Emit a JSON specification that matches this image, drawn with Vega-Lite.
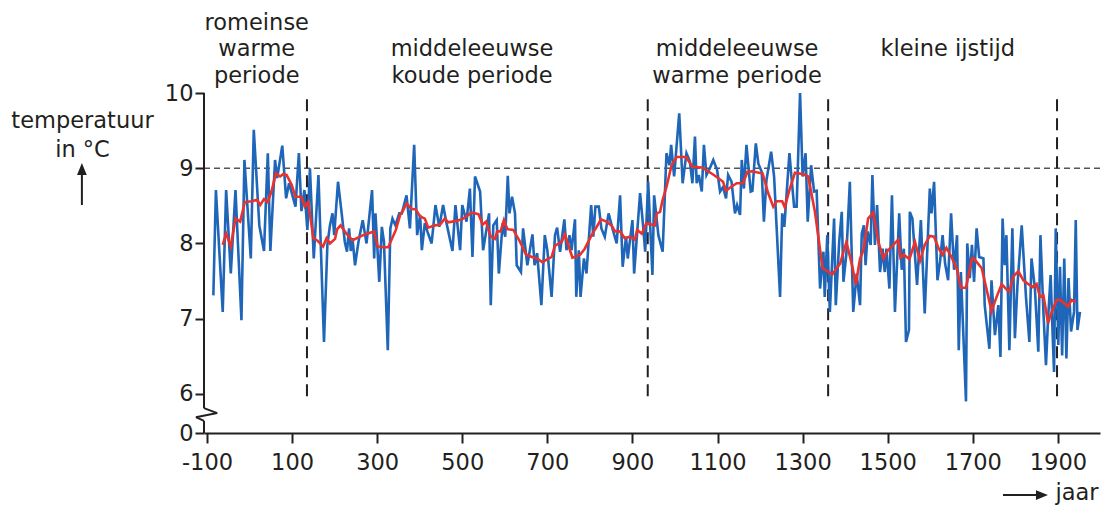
{
  "$schema": "https://vega.github.io/schema/vega-lite/v6.json",
  "width": 896,
  "height": 340,
  "autosize": {"type": "none"},
  "padding": {"left": 204, "top": 93, "right": 10, "bottom": 73},
  "background": "white",
  "config": {
    "view": {"stroke": null},
    "font": "DejaVu Sans",
    "axis": {"grid": false, "labelFont": "DejaVu Sans", "titleFont": "DejaVu Sans", "labelColor": "#231f20", "titleColor": "#231f20", "tickColor": "#231f20", "domainColor": "#231f20"},
    "text": {"font": "DejaVu Sans", "fontSize": 22.5, "color": "#231f20"}
  },
  "datasets": {
    "jaarlijks": [
      {"jaar":-85,"temperatuur":7.31},{"jaar":-79,"temperatuur":8.71},{"jaar":-63,"temperatuur":7.09},{"jaar":-55,"temperatuur":8.71},{"jaar":-44,"temperatuur":7.6},{"jaar":-33,"temperatuur":8.71},{"jaar":-19,"temperatuur":6.98},{"jaar":-12,"temperatuur":9.11},{"jaar":3,"temperatuur":7.8},{"jaar":10,"temperatuur":9.51},{"jaar":23,"temperatuur":8.24},{"jaar":34,"temperatuur":7.9},{"jaar":43,"temperatuur":9.2},{"jaar":49,"temperatuur":7.9},{"jaar":60,"temperatuur":9.11},{"jaar":65,"temperatuur":8.87},{"jaar":77,"temperatuur":9.3},{"jaar":86,"temperatuur":8.6},{"jaar":93,"temperatuur":8.8},{"jaar":108,"temperatuur":8.49},{"jaar":116,"temperatuur":9.2},{"jaar":122,"temperatuur":8.43},{"jaar":129,"temperatuur":8.71},{"jaar":136,"temperatuur":8.18},
      {"jaar":142,"temperatuur":9.0},{"jaar":151,"temperatuur":7.8},{"jaar":162,"temperatuur":8.91},{"jaar":175,"temperatuur":6.69},{"jaar":183,"temperatuur":7.98},{"jaar":189,"temperatuur":8.24},{"jaar":195,"temperatuur":8.4},{"jaar":199,"temperatuur":8.11},{"jaar":208,"temperatuur":8.82},{"jaar":217,"temperatuur":8.38},{"jaar":224,"temperatuur":8.02},{"jaar":229,"temperatuur":7.89},{"jaar":234,"temperatuur":8.2},{"jaar":238,"temperatuur":7.9},{"jaar":242,"temperatuur":8.07},{"jaar":248,"temperatuur":7.71},{"jaar":256,"temperatuur":8.02},{"jaar":266,"temperatuur":8.31},{"jaar":275,"temperatuur":8.0},{"jaar":288,"temperatuur":8.71},{"jaar":293,"temperatuur":7.8},{"jaar":296,"temperatuur":8.4},{"jaar":305,"temperatuur":7.49},{"jaar":311,"temperatuur":8.22},{"jaar":316,"temperatuur":8.02},{"jaar":325,"temperatuur":6.58},{"jaar":331,"temperatuur":8.2},{"jaar":336,"temperatuur":8.33},{"jaar":343,"temperatuur":8.24},{"jaar":352,"temperatuur":8.4},{"jaar":358,"temperatuur":8.4},{"jaar":369,"temperatuur":8.64},{"jaar":377,"temperatuur":8.2},{"jaar":387,"temperatuur":9.31},{"jaar":394,"temperatuur":8.11},
      {"jaar":401,"temperatuur":8.38},{"jaar":405,"temperatuur":7.91},{"jaar":412,"temperatuur":8.27},{"jaar":418,"temperatuur":8.16},{"jaar":428,"temperatuur":8.0},{"jaar":437,"temperatuur":8.51},{"jaar":446,"temperatuur":8.22},{"jaar":455,"temperatuur":8.51},{"jaar":463,"temperatuur":8.27},{"jaar":477,"temperatuur":7.9},{"jaar":484,"temperatuur":8.51},{"jaar":495,"temperatuur":7.91},{"jaar":500,"temperatuur":8.51},{"jaar":510,"temperatuur":8.29},{"jaar":518,"temperatuur":8.73},{"jaar":524,"temperatuur":7.82},{"jaar":530,"temperatuur":8.89},{"jaar":542,"temperatuur":8.69},{"jaar":549,"temperatuur":7.91},{"jaar":563,"temperatuur":8.4},{"jaar":567,"temperatuur":7.18},{"jaar":573,"temperatuur":8.24},{"jaar":581,"temperatuur":8.31},{"jaar":586,"temperatuur":7.6},{"jaar":595,"temperatuur":8.27},{"jaar":601,"temperatuur":8.09},{"jaar":607,"temperatuur":8.9},{"jaar":611,"temperatuur":8.4},{"jaar":617,"temperatuur":8.62},{"jaar":624,"temperatuur":8.4},{"jaar":628,"temperatuur":7.71},{"jaar":638,"temperatuur":7.62},{"jaar":643,"temperatuur":8.2},{"jaar":653,"temperatuur":7.71},
      {"jaar":665,"temperatuur":8.12},{"jaar":670,"temperatuur":7.71},{"jaar":676,"temperatuur":7.87},{"jaar":686,"temperatuur":7.18},{"jaar":694,"temperatuur":8.11},{"jaar":700,"temperatuur":7.91},{"jaar":710,"temperatuur":7.29},{"jaar":718,"temperatuur":8.11},{"jaar":723,"temperatuur":8.21},{"jaar":730,"temperatuur":7.89},{"jaar":740,"temperatuur":8.32},{"jaar":745,"temperatuur":7.91},{"jaar":752,"temperatuur":8.11},{"jaar":757,"temperatuur":7.91},{"jaar":765,"temperatuur":8.32},{"jaar":768,"temperatuur":7.29},{"jaar":774,"temperatuur":7.91},{"jaar":778,"temperatuur":7.29},{"jaar":786,"temperatuur":7.8},{"jaar":792,"temperatuur":7.6},{"jaar":803,"temperatuur":8.51},{"jaar":808,"temperatuur":8.09},{"jaar":813,"temperatuur":8.49},{"jaar":821,"temperatuur":8.49},{"jaar":827,"temperatuur":8.2},{"jaar":835,"temperatuur":8.09},{"jaar":844,"temperatuur":8.4},{"jaar":853,"temperatuur":8.2},{"jaar":863,"temperatuur":8.0},{"jaar":871,"temperatuur":8.64},{"jaar":877,"temperatuur":7.69},{"jaar":885,"temperatuur":8.09},{"jaar":889,"temperatuur":7.8},{"jaar":900,"temperatuur":8.31},{"jaar":904,"temperatuur":7.6},{"jaar":918,"temperatuur":8.67},
      {"jaar":925,"temperatuur":8.24},{"jaar":930,"temperatuur":7.89},{"jaar":937,"temperatuur":8.82},{"jaar":947,"temperatuur":7.58},{"jaar":951,"temperatuur":8.64},{"jaar":961,"temperatuur":8.11},{"jaar":971,"temperatuur":7.89},{"jaar":980,"temperatuur":9.2},{"jaar":987,"temperatuur":9.04},{"jaar":991,"temperatuur":9.31},{"jaar":998,"temperatuur":8.89},{"jaar":1010,"temperatuur":9.73},{"jaar":1018,"temperatuur":8.8},{"jaar":1027,"temperatuur":9.2},{"jaar":1035,"temperatuur":9.09},{"jaar":1041,"temperatuur":8.8},{"jaar":1047,"temperatuur":9.42},{"jaar":1051,"temperatuur":8.8},{"jaar":1056,"temperatuur":8.91},{"jaar":1063,"temperatuur":8.69},{"jaar":1068,"temperatuur":9.31},{"jaar":1074,"temperatuur":8.91},{"jaar":1082,"temperatuur":9.0},{"jaar":1090,"temperatuur":9.11},{"jaar":1099,"temperatuur":8.98},{"jaar":1106,"temperatuur":8.69},{"jaar":1113,"temperatuur":8.75},{"jaar":1120,"temperatuur":8.6},{"jaar":1125,"temperatuur":8.91},{"jaar":1133,"temperatuur":8.82},{"jaar":1141,"temperatuur":8.4},{"jaar":1146,"temperatuur":8.51},{"jaar":1153,"temperatuur":8.38},{"jaar":1157,"temperatuur":9.11},{"jaar":1162,"temperatuur":8.73},{"jaar":1168,"temperatuur":9.31},{"jaar":1178,"temperatuur":8.69},
      {"jaar":1182,"temperatuur":8.7},{"jaar":1190,"temperatuur":9.33},{"jaar":1196,"temperatuur":9.06},{"jaar":1204,"temperatuur":8.95},{"jaar":1209,"temperatuur":8.29},{"jaar":1215,"temperatuur":8.84},{"jaar":1226,"temperatuur":9.22},{"jaar":1233,"temperatuur":8.89},{"jaar":1247,"temperatuur":7.29},{"jaar":1252,"temperatuur":8.4},{"jaar":1257,"temperatuur":8.22},{"jaar":1269,"temperatuur":9.2},{"jaar":1274,"temperatuur":8.87},{"jaar":1280,"temperatuur":8.49},{"jaar":1286,"temperatuur":8.49},{"jaar":1294,"temperatuur":10.0},{"jaar":1300,"temperatuur":8.89},{"jaar":1307,"temperatuur":9.2},{"jaar":1312,"temperatuur":8.29},{"jaar":1320,"temperatuur":9.04},{"jaar":1327,"temperatuur":8.69},{"jaar":1333,"temperatuur":8.7},{"jaar":1341,"temperatuur":7.4},{"jaar":1349,"temperatuur":7.89},{"jaar":1352,"temperatuur":7.29},{"jaar":1358,"temperatuur":8.11},{"jaar":1364,"temperatuur":7.09},{"jaar":1374,"temperatuur":8.33},{"jaar":1378,"temperatuur":7.18},{"jaar":1386,"temperatuur":8.02},{"jaar":1392,"temperatuur":8.42},{"jaar":1396,"temperatuur":7.49},{"jaar":1403,"temperatuur":7.87},{"jaar":1411,"temperatuur":8.82},{"jaar":1419,"temperatuur":7.09},{"jaar":1427,"temperatuur":7.6},{"jaar":1435,"temperatuur":7.18},
      {"jaar":1439,"temperatuur":8.13},{"jaar":1444,"temperatuur":8.24},{"jaar":1448,"temperatuur":7.71},{"jaar":1453,"temperatuur":8.16},{"jaar":1460,"temperatuur":7.98},{"jaar":1464,"temperatuur":8.91},{"jaar":1470,"temperatuur":7.98},{"jaar":1475,"temperatuur":8.51},{"jaar":1482,"temperatuur":7.62},{"jaar":1488,"temperatuur":7.93},{"jaar":1493,"temperatuur":7.62},{"jaar":1497,"temperatuur":7.93},{"jaar":1504,"temperatuur":7.4},{"jaar":1510,"temperatuur":8.64},{"jaar":1517,"temperatuur":7.09},{"jaar":1527,"temperatuur":8.4},{"jaar":1533,"temperatuur":7.65},{"jaar":1538,"temperatuur":7.93},{"jaar":1543,"temperatuur":6.69},{"jaar":1550,"temperatuur":6.85},{"jaar":1552,"temperatuur":8.42},{"jaar":1558,"temperatuur":8.33},{"jaar":1569,"temperatuur":7.45},{"jaar":1578,"temperatuur":8.31},{"jaar":1587,"temperatuur":7.07},{"jaar":1599,"temperatuur":8.73},{"jaar":1603,"temperatuur":8.4},{"jaar":1609,"temperatuur":8.82},{"jaar":1617,"temperatuur":7.51},{"jaar":1623,"temperatuur":7.76},{"jaar":1629,"temperatuur":8.11},{"jaar":1635,"temperatuur":7.73},{"jaar":1642,"temperatuur":7.51},{"jaar":1649,"temperatuur":8.4},{"jaar":1656,"temperatuur":7.65},{"jaar":1663,"temperatuur":8.11},{"jaar":1667,"temperatuur":6.58},{"jaar":1672,"temperatuur":7.62},{"jaar":1684,"temperatuur":5.9},{"jaar":1687,"temperatuur":8.0},{"jaar":1693,"temperatuur":7.54},{"jaar":1698,"temperatuur":7.98},
      {"jaar":1703,"temperatuur":7.49},{"jaar":1709,"temperatuur":8.2},{"jaar":1715,"temperatuur":7.82},{"jaar":1725,"temperatuur":7.8},{"jaar":1728,"temperatuur":7.18},{"jaar":1739,"temperatuur":6.6},{"jaar":1744,"temperatuur":7.51},{"jaar":1752,"temperatuur":6.78},{"jaar":1760,"temperatuur":7.18},{"jaar":1765,"temperatuur":6.49},{"jaar":1770,"temperatuur":8.33},{"jaar":1775,"temperatuur":7.71},{"jaar":1779,"temperatuur":8.11},{"jaar":1786,"temperatuur":6.58},{"jaar":1793,"temperatuur":8.2},{"jaar":1799,"temperatuur":6.74},{"jaar":1805,"temperatuur":7.45},{"jaar":1815,"temperatuur":8.24},{"jaar":1825,"temperatuur":7.29},{"jaar":1833,"temperatuur":6.69},{"jaar":1838,"temperatuur":7.8},{"jaar":1846,"temperatuur":7.4},{"jaar":1854,"temperatuur":6.56},{"jaar":1859,"temperatuur":8.11},{"jaar":1866,"temperatuur":7.09},{"jaar":1872,"temperatuur":6.38},{"jaar":1877,"temperatuur":7.0},{"jaar":1883,"temperatuur":7.58},{"jaar":1888,"temperatuur":6.74},{"jaar":1891,"temperatuur":6.29},{"jaar":1895,"temperatuur":8.2},{"jaar":1901,"temperatuur":6.65},{"jaar":1905,"temperatuur":7.69},{"jaar":1910,"temperatuur":6.51},{"jaar":1915,"temperatuur":7.8},{"jaar":1920,"temperatuur":6.47},{"jaar":1925,"temperatuur":7.54},{"jaar":1931,"temperatuur":6.83},{"jaar":1938,"temperatuur":7.09},{"jaar":1942,"temperatuur":8.31},{"jaar":1946,"temperatuur":6.85},{"jaar":1952,"temperatuur":7.09}
    ],
    "gemiddeld": [
      {"jaar":-63,"temperatuur":7.98},{"jaar":-55,"temperatuur":8.13},{"jaar":-44,"temperatuur":7.96},{"jaar":-33,"temperatuur":8.33},{"jaar":-22,"temperatuur":8.29},{"jaar":-11,"temperatuur":8.55},{"jaar":5,"temperatuur":8.56},{"jaar":18,"temperatuur":8.58},{"jaar":25,"temperatuur":8.51},{"jaar":34,"temperatuur":8.59},{"jaar":43,"temperatuur":8.55},{"jaar":52,"temperatuur":8.7},{"jaar":62,"temperatuur":8.93},{"jaar":72,"temperatuur":8.89},{"jaar":79,"temperatuur":8.92},{"jaar":87,"temperatuur":8.91},{"jaar":99,"temperatuur":8.78},{"jaar":108,"temperatuur":8.62},{"jaar":122,"temperatuur":8.62},{"jaar":130,"temperatuur":8.49},{"jaar":138,"temperatuur":8.55},
      {"jaar":150,"temperatuur":8.07},{"jaar":159,"temperatuur":8.04},{"jaar":173,"temperatuur":7.96},{"jaar":181,"temperatuur":8.07},{"jaar":189,"temperatuur":8.0},{"jaar":201,"temperatuur":8.06},{"jaar":206,"temperatuur":8.19},{"jaar":214,"temperatuur":8.24},{"jaar":228,"temperatuur":8.13},{"jaar":242,"temperatuur":8.04},{"jaar":256,"temperatuur":8.08},{"jaar":271,"temperatuur":8.12},{"jaar":293,"temperatuur":8.16},{"jaar":301,"temperatuur":7.96},{"jaar":313,"temperatuur":7.95},{"jaar":326,"temperatuur":7.95},{"jaar":344,"temperatuur":8.18},{"jaar":354,"temperatuur":8.38},{"jaar":361,"temperatuur":8.44},{"jaar":369,"temperatuur":8.53},{"jaar":381,"temperatuur":8.46},{"jaar":391,"temperatuur":8.45},
      {"jaar":401,"temperatuur":8.36},{"jaar":412,"temperatuur":8.33},{"jaar":420,"temperatuur":8.21},{"jaar":436,"temperatuur":8.24},{"jaar":448,"temperatuur":8.25},{"jaar":459,"temperatuur":8.33},{"jaar":467,"temperatuur":8.28},{"jaar":487,"temperatuur":8.3},{"jaar":502,"temperatuur":8.33},{"jaar":522,"temperatuur":8.41},{"jaar":538,"temperatuur":8.39},{"jaar":548,"temperatuur":8.25},{"jaar":556,"temperatuur":8.29},{"jaar":567,"temperatuur":8.09},{"jaar":577,"temperatuur":8.06},{"jaar":582,"temperatuur":8.16},{"jaar":590,"temperatuur":8.16},{"jaar":598,"temperatuur":8.31},{"jaar":606,"temperatuur":8.19},{"jaar":620,"temperatuur":8.18},{"jaar":636,"temperatuur":8.02},{"jaar":650,"temperatuur":7.85},{"jaar":664,"temperatuur":7.82},
      {"jaar":676,"temperatuur":7.8},{"jaar":688,"temperatuur":7.75},{"jaar":710,"temperatuur":7.82},{"jaar":718,"temperatuur":7.97},{"jaar":734,"temperatuur":8.02},{"jaar":741,"temperatuur":8.12},{"jaar":759,"temperatuur":7.81},{"jaar":777,"temperatuur":7.85},{"jaar":788,"temperatuur":7.93},{"jaar":804,"temperatuur":8.11},{"jaar":816,"temperatuur":8.22},{"jaar":826,"temperatuur":8.32},{"jaar":839,"temperatuur":8.29},{"jaar":851,"temperatuur":8.24},{"jaar":859,"temperatuur":8.16},{"jaar":871,"temperatuur":8.16},{"jaar":882,"temperatuur":8.07},{"jaar":894,"temperatuur":8.09},{"jaar":906,"temperatuur":8.05},{"jaar":911,"temperatuur":8.18},{"jaar":922,"temperatuur":8.13},
      {"jaar":933,"temperatuur":8.27},{"jaar":953,"temperatuur":8.24},{"jaar":957,"temperatuur":8.4},{"jaar":965,"temperatuur":8.42},{"jaar":971,"temperatuur":8.58},{"jaar":980,"temperatuur":8.75},{"jaar":992,"temperatuur":9.04},{"jaar":1004,"temperatuur":9.15},{"jaar":1026,"temperatuur":9.15},{"jaar":1041,"temperatuur":9.02},{"jaar":1063,"temperatuur":9.01},{"jaar":1078,"temperatuur":8.96},{"jaar":1094,"temperatuur":8.9},{"jaar":1113,"temperatuur":8.82},{"jaar":1120,"temperatuur":8.7},{"jaar":1129,"temperatuur":8.74},{"jaar":1145,"temperatuur":8.8},{"jaar":1160,"temperatuur":8.8},{"jaar":1170,"temperatuur":8.95},{"jaar":1181,"temperatuur":8.96},
      {"jaar":1206,"temperatuur":8.93},{"jaar":1219,"temperatuur":8.67},{"jaar":1231,"temperatuur":8.49},{"jaar":1239,"temperatuur":8.56},{"jaar":1252,"temperatuur":8.56},{"jaar":1258,"temperatuur":8.48},{"jaar":1270,"temperatuur":8.73},{"jaar":1282,"temperatuur":8.94},{"jaar":1302,"temperatuur":8.92},{"jaar":1313,"temperatuur":8.89},{"jaar":1329,"temperatuur":8.42},{"jaar":1347,"temperatuur":7.67},{"jaar":1370,"temperatuur":7.59},{"jaar":1388,"temperatuur":7.73},{"jaar":1403,"temperatuur":8.02},{"jaar":1417,"temperatuur":7.69},{"jaar":1425,"temperatuur":7.45},{"jaar":1435,"temperatuur":7.8},
      {"jaar":1443,"temperatuur":7.91},{"jaar":1454,"temperatuur":8.33},{"jaar":1466,"temperatuur":8.41},{"jaar":1478,"temperatuur":8.02},{"jaar":1490,"temperatuur":7.8},{"jaar":1501,"temperatuur":7.91},{"jaar":1525,"temperatuur":8.05},{"jaar":1530,"temperatuur":7.81},{"jaar":1538,"temperatuur":7.85},{"jaar":1551,"temperatuur":7.79},{"jaar":1564,"temperatuur":8.02},{"jaar":1576,"temperatuur":7.77},{"jaar":1587,"temperatuur":7.98},{"jaar":1599,"temperatuur":8.1},{"jaar":1609,"temperatuur":8.09},{"jaar":1620,"temperatuur":7.93},{"jaar":1629,"temperatuur":7.85},{"jaar":1638,"temperatuur":7.94},{"jaar":1648,"temperatuur":7.84},{"jaar":1662,"temperatuur":7.67},{"jaar":1672,"temperatuur":7.41},{"jaar":1684,"temperatuur":7.41},{"jaar":1698,"temperatuur":7.8},
      {"jaar":1701,"temperatuur":7.81},{"jaar":1721,"temperatuur":7.67},{"jaar":1732,"temperatuur":7.4},{"jaar":1744,"temperatuur":7.1},{"jaar":1756,"temperatuur":7.29},{"jaar":1768,"temperatuur":7.46},{"jaar":1779,"temperatuur":7.39},{"jaar":1786,"temperatuur":7.36},{"jaar":1795,"temperatuur":7.56},{"jaar":1807,"temperatuur":7.63},{"jaar":1819,"temperatuur":7.51},{"jaar":1830,"temperatuur":7.46},{"jaar":1841,"temperatuur":7.42},{"jaar":1850,"temperatuur":7.46},{"jaar":1858,"temperatuur":7.29},{"jaar":1866,"temperatuur":7.31},{"jaar":1877,"temperatuur":6.94},{"jaar":1883,"temperatuur":7.05},{"jaar":1897,"temperatuur":7.25},{"jaar":1905,"temperatuur":7.25},{"jaar":1916,"temperatuur":7.2},{"jaar":1924,"temperatuur":7.16},{"jaar":1932,"temperatuur":7.25},{"jaar":1942,"temperatuur":7.22}
    ],
    "grenzen": [{"jaar":135},{"jaar":936},{"jaar":1360},{"jaar":1898}],
    "perioden": [
      {"periode":"romeinse\nwarme\nperiode","midden":17},
      {"periode":"\nmiddeleeuwse\nkoude periode","midden":523},
      {"periode":"\nmiddeleeuwse\nwarme periode","midden":1146},
      {"periode":"\n\nkleine ijstijd","midden":1641}
    ],
    "leeg": [{}]
  },
  "layer": [
    {
      "data": {"name": "leeg"},
      "mark": {"type": "rule", "color": "#555555", "strokeWidth": 1.5, "strokeDash": [6, 4]},
      "encoding": {"y": {"datum": 9}}
    },
    {
      "data": {"name": "grenzen"},
      "mark": {"type": "rule", "color": "#231f20", "strokeWidth": 2, "strokeDash": [12, 7]},
      "encoding": {
        "x": {"field": "jaar", "type": "quantitative"},
        "y": {"datum": 5.97},
        "y2": {"datum": 10}
      }
    },
    {
      "data": {"name": "jaarlijks"},
      "mark": {"type": "line", "color": "#1f66b8", "strokeWidth": 2.6, "strokeJoin": "miter"},
      "encoding": {
        "x": {
          "field": "jaar", "type": "quantitative",
          "scale": {"domain": [-107, 1999], "nice": false, "zero": false},
          "axis": {
            "values": [-100, 100, 300, 500, 700, 900, 1100, 1300, 1500, 1700, 1900],
            "labelExpr": "'' + datum.value",
            "labelFontSize": 22.5, "labelPadding": 8, "labelFlush": false, "labelOverlap": false,
            "tickSize": 10, "tickWidth": 2, "domainWidth": 2,
            "title": "jaar", "titleFontSize": 22.5, "titleFontWeight": "normal",
            "titleX": 851, "titleY": 66, "titleAlign": "left", "titleBaseline": "alphabetic", "titleAnchor": null
          }
        },
        "y": {
          "field": "temperatuur", "type": "quantitative",
          "scale": {"domain": [5.48, 10], "nice": false, "zero": false},
          "axis": {
            "values": [5.48, 6, 7, 8, 9, 10],
            "labelExpr": "datum.value < 5.9 ? '0' : format(datum.value, 'd')",
            "labelFontSize": 22.5, "labelPadding": 2, "labelFlush": false, "labelOverlap": false,
            "domain": false, "tickSize": 9, "tickWidth": 2,
            "title": ["temperatuur", "in °C"], "titleFontSize": 22.5, "titleFontWeight": "normal",
            "titleAngle": 0, "titleX": -122, "titleY": 34, "titleAlign": "center", "titleBaseline": "alphabetic", "titleLineHeight": 29, "titleAnchor": null
          }
        }
      }
    },
    {
      "data": {"name": "gemiddeld"},
      "mark": {"type": "line", "color": "#e8322e", "strokeWidth": 2.6},
      "encoding": {
        "x": {"field": "jaar", "type": "quantitative"},
        "y": {"field": "temperatuur", "type": "quantitative"}
      }
    },
    {
      "data": {"name": "leeg"},
      "mark": {"type": "rule", "color": "#231f20", "strokeWidth": 2},
      "encoding": {"x": {"datum": -107}, "y": {"datum": 10}, "y2": {"datum": 5.81}}
    },
    {
      "data": {"name": "leeg"},
      "mark": {"type": "rule", "color": "#231f20", "strokeWidth": 2},
      "encoding": {"x": {"datum": -107}, "x2": {"datum": -76}, "y": {"datum": 5.81}, "y2": {"datum": 5.745}}
    },
    {
      "data": {"name": "leeg"},
      "mark": {"type": "rule", "color": "#231f20", "strokeWidth": 2},
      "encoding": {"x": {"datum": -76}, "x2": {"datum": -126}, "y": {"datum": 5.745}, "y2": {"datum": 5.69}}
    },
    {
      "data": {"name": "leeg"},
      "mark": {"type": "rule", "color": "#231f20", "strokeWidth": 2},
      "encoding": {"x": {"datum": -126}, "x2": {"datum": -107}, "y": {"datum": 5.69}, "y2": {"datum": 5.64}}
    },
    {
      "data": {"name": "leeg"},
      "mark": {"type": "rule", "color": "#231f20", "strokeWidth": 2},
      "encoding": {"x": {"datum": -107}, "y": {"datum": 5.64}, "y2": {"datum": 5.48}}
    },
    {
      "data": {"name": "perioden"},
      "mark": {"type": "text", "align": "center", "baseline": "alphabetic", "lineBreak": "\n", "lineHeight": 26.5, "fontSize": 22.5, "color": "#231f20"},
      "encoding": {
        "x": {"field": "midden", "type": "quantitative"},
        "y": {"datum": 10.838},
        "text": {"field": "periode"}
      }
    },
    {
      "data": {"name": "leeg"},
      "mark": {"type": "rule", "color": "#231f20", "strokeWidth": 2},
      "encoding": {"x": {"datum": -394}, "y": {"datum": 8.511}, "y2": {"datum": 8.969}}
    },
    {
      "data": {"name": "leeg"},
      "mark": {"type": "point", "shape": "M0,-1L0.65,0.6L-0.65,0.6Z", "filled": true, "size": 225, "color": "#231f20", "opacity": 1},
      "encoding": {"x": {"datum": -394}, "y": {"datum": 8.969}}
    },
    {
      "data": {"name": "leeg"},
      "mark": {"type": "rule", "color": "#231f20", "strokeWidth": 2},
      "encoding": {"x": {"datum": 1771}, "x2": {"datum": 1859}, "y": {"datum": 4.655}}
    },
    {
      "data": {"name": "leeg"},
      "mark": {"type": "point", "shape": "M1,0L-0.6,0.65L-0.6,-0.65Z", "filled": true, "size": 225, "color": "#231f20", "opacity": 1},
      "encoding": {"x": {"datum": 1859}, "y": {"datum": 4.655}}
    }
  ]
}
